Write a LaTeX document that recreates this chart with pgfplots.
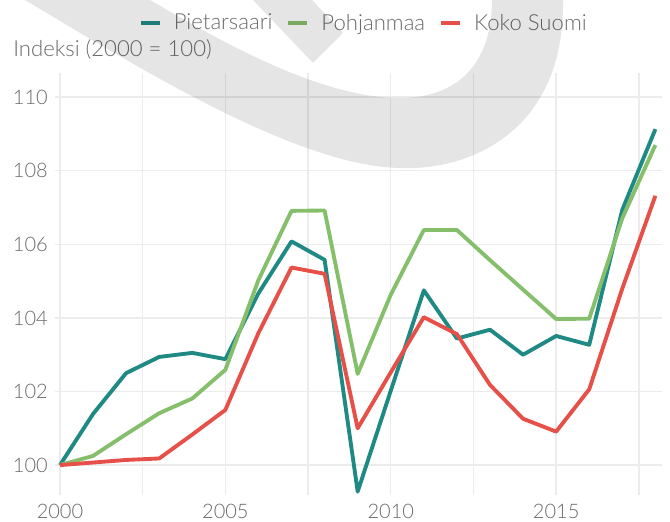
\documentclass[border=0pt]{standalone}
\usepackage{fontspec}
\setmainfont{Lato Light}
\usepackage{pgfplots}
\pgfplotsset{compat=1.18}
\definecolor{tealc}{RGB}{31,138,132}
\definecolor{greenc}{RGB}{134,191,108}
\definecolor{redc}{RGB}{231,80,72}
\definecolor{txt}{RGB}{105,105,105}
\definecolor{gridc}{RGB}{236,236,236}
\newcommand{\lblfont}{\fontsize{15}{18}\selectfont}
\newcommand{\txtfont}{\fontsize{16.6}{20}\selectfont}
\begin{document}
\begin{tikzpicture}[x=0.75pt,y=0.75pt]
\useasboundingbox (0,0) rectangle (670,521);
\begin{axis}[
  at={(41.25pt,19.3pt)}, anchor=south west,
  scale only axis, width=455.25pt, height=316.5pt,
  xmin=1999.85, xmax=2018.2, ymin=99.18, ymax=110.65,
  axis line style={draw=none},
  major tick length=0pt, minor tick length=0pt,
  xtick={2000,2005,2010,2015},
  minor xtick={2002.5,2007.5,2012.5,2017.5},
  ytick={100,102,104,106,108,110},
  grid=both,
  major grid style={gridc, line width=1.1pt},
  minor grid style={gridc, line width=1.1pt},
  /pgf/number format/assume math mode=true,
  x tick label style={/pgf/number format/1000 sep={}, anchor=north, inner sep=0pt, yshift=-6.75pt},
  y tick label style={anchor=east, inner sep=0pt, xshift=-5.25pt},
  tick label style={font=\lblfont, text=txt},
  legend style={draw=none, fill=none, at={(0.507,1.119)}, anchor=center,
    legend columns=3, font=\txtfont, text=txt, inner sep=0pt,
    nodes={inner sep=0pt},
    /tikz/every odd column/.append style={column sep=9pt},
    /tikz/every even column/.append style={column sep=10.5pt}},
  legend image code/.code={\draw[#1, line width=3pt] (0pt,0pt) -- (14.25pt,0pt);},
  every axis plot/.append style={line width=2.9pt, line join=round},
]
\addplot[tealc] coordinates {
(2000,100) (2001,101.39) (2002,102.50) (2003,102.94) (2004,103.05) (2005,102.88)
(2006,104.67) (2007,106.08) (2008,105.58) (2009,99.28) (2010,102.02) (2011,104.75)
(2012,103.44) (2013,103.68) (2014,103.00) (2015,103.51) (2016,103.27) (2017,106.94) (2018,109.13)};
\addlegendentry{Pietarsaari}
\addplot[greenc] coordinates {
(2000,100) (2001,100.25) (2002,100.84) (2003,101.41) (2004,101.81) (2005,102.59)
(2006,105.03) (2007,106.91) (2008,106.92) (2009,102.48) (2010,104.63) (2011,106.39)
(2012,106.39) (2013,105.57) (2014,104.77) (2015,103.97) (2016,103.98) (2017,106.71) (2018,108.70)};
\addlegendentry{Pohjanmaa}
\addplot[redc] coordinates {
(2000,100) (2001,100.07) (2002,100.14) (2003,100.18) (2004,100.83) (2005,101.50)
(2006,103.59) (2007,105.37) (2008,105.20) (2009,101.00) (2010,102.52) (2011,104.02)
(2012,103.56) (2013,102.18) (2014,101.26) (2015,100.91) (2016,102.06) (2017,104.80) (2018,107.32)};
\addlegendentry{Koko Suomi}
\end{axis}
\node[anchor=base west, inner sep=0pt, font=\txtfont, text=txt] at (13,464.3) {Indeksi (2000 = 100)};
% watermark
\fill[black, opacity=0.1]
  (25,521) .. controls (150,446) and (300,355) .. (400,353)
  .. controls (470,350) and (565,390) .. (563,521)
  -- (492,521) .. controls (492,460) and (460,423) .. (400,423)
  .. controls (320,423) and (220,480) .. (150,521) -- cycle;
\fill[black, opacity=0.1] (253,521) -- (313,458) -- (343,488) -- (312,521) -- cycle;
\end{tikzpicture}
\end{document}
